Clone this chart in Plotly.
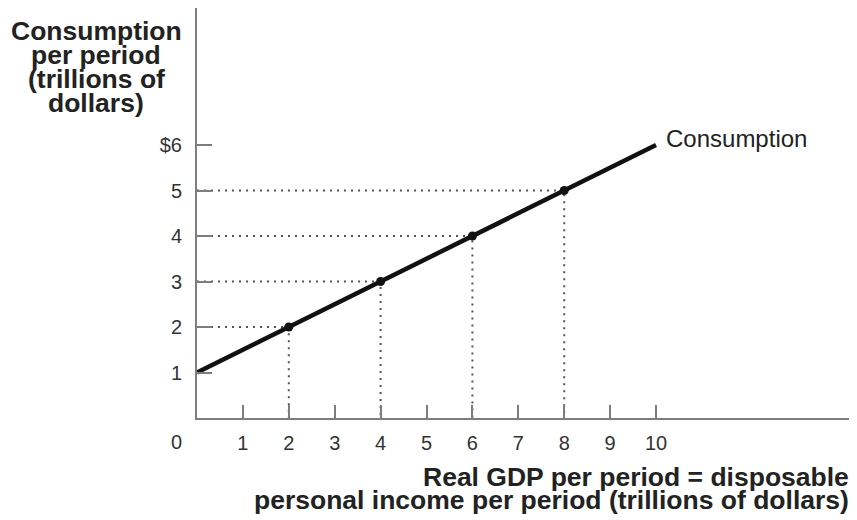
import plotly.graph_objects as go

# Data
income = [0, 2, 4, 6, 8, 10]
consumption = [1, 2, 3, 4, 5, 6]
marked_income = [2, 4, 6, 8]
marked_consumption = [2, 3, 4, 5]
x_tick_vals = [1, 2, 3, 4, 5, 6, 7, 8, 9, 10]
x_tick_text = ["1", "2", "3", "4", "5", "6", "7", "8", "9", "10"]
y_tick_vals = [1, 2, 3, 4, 5, 6]
y_tick_text = ["1", "2", "3", "4", "5", "$6"]
y_title_lines = ["Consumption", "per period", "(trillions of", "dollars)"]
x_title_lines = ["Real GDP per period = disposable",
                 "personal income per period (trillions of dollars)"]
line_label = "Consumption"

AXIS = "#7d7d7d"
TXT = "#333333"
FONT = "Liberation Sans, Arial, Helvetica, sans-serif"

# guide (dotted) lines built from the marked points
gx, gy = [], []
for xv, yv in zip(marked_income, marked_consumption):
    gx += [0, xv, xv, None]
    gy += [yv, yv, 0, None]

fig = go.Figure()
fig.add_trace(go.Scatter(x=gx, y=gy, mode="lines",
                         line=dict(color="#555555", width=2, dash="2px,5px"),
                         hoverinfo="skip", showlegend=False))
fig.add_trace(go.Scatter(x=income, y=consumption, mode="lines",
                         line=dict(color="#111111", width=4.5),
                         showlegend=False, cliponaxis=False))
fig.add_trace(go.Scatter(x=marked_income, y=marked_consumption, mode="markers",
                         marker=dict(color="#111111", size=9),
                         showlegend=False))

OFF = 8  # page body offset
W, H = 849, 512
ml, mr, mt, mb = 189, 0, 0, 102
PW, PH = W - ml - mr, H - mt - mb
px_x = 45.9
px_y = 45.5
xmax = PW / px_x
ymax = PH / px_y


def px(vx, vy):
    """viewport pixel -> paper coords"""
    fx, fy = vx - OFF, vy - OFF
    return (fx - ml) / PW, (mt + PH - fy) / PH


fig.update_layout(
    width=W, height=H,
    margin=dict(l=ml, r=mr, t=mt, b=mb, autoexpand=False),
    plot_bgcolor="white", paper_bgcolor="white",
    font=dict(family=FONT, color=TXT, size=20),
    xaxis=dict(range=[0, xmax], showgrid=False, zeroline=False,
               showline=True, linecolor=AXIS, linewidth=2,
               ticks="inside", ticklen=13, tickwidth=2, tickcolor=AXIS,
               tickvals=x_tick_vals, ticktext=x_tick_text,
               tickfont=dict(size=20, color=TXT), ticklabelstandoff=6),
    yaxis=dict(range=[0, ymax], showgrid=False, zeroline=False,
               showline=True, linecolor=AXIS, linewidth=2,
               ticks="inside", ticklen=15, tickwidth=2, tickcolor=AXIS,
               tickvals=y_tick_vals, ticktext=y_tick_text,
               tickfont=dict(size=20, color=TXT), ticklabelstandoff=9),
)

ax, ay = px(176.5, 442)
fig.add_annotation(text="0", x=ax, y=ay, xref="paper", yref="paper",
                   xanchor="center", yanchor="middle",
                   showarrow=False, font=dict(size=20, color=TXT))

lx, ly = px(664, 139)
fig.add_annotation(text=line_label, x=lx, y=ly, xref="paper", yref="paper",
                   xanchor="left", yanchor="middle", showarrow=False,
                   font=dict(size=24, color="#222222"))

for i, t in enumerate(y_title_lines):
    tx, ty = px(96, 31 + 24 * i)
    fig.add_annotation(text="<b>%s</b>" % t, x=tx, y=ty, xref="paper", yref="paper",
                       showarrow=False, xanchor="center", yanchor="middle",
                       font=dict(size=26.5, color="#222222"))

for i, t in enumerate(x_title_lines):
    tx, ty = px(851, 477 + 23 * i)
    fig.add_annotation(text="<b>%s</b>" % t, x=tx, y=ty, xref="paper", yref="paper",
                       showarrow=False, xanchor="right", yanchor="middle",
                       font=dict(size=26.5, color="#222222"))

fig.write_html("out.html")
